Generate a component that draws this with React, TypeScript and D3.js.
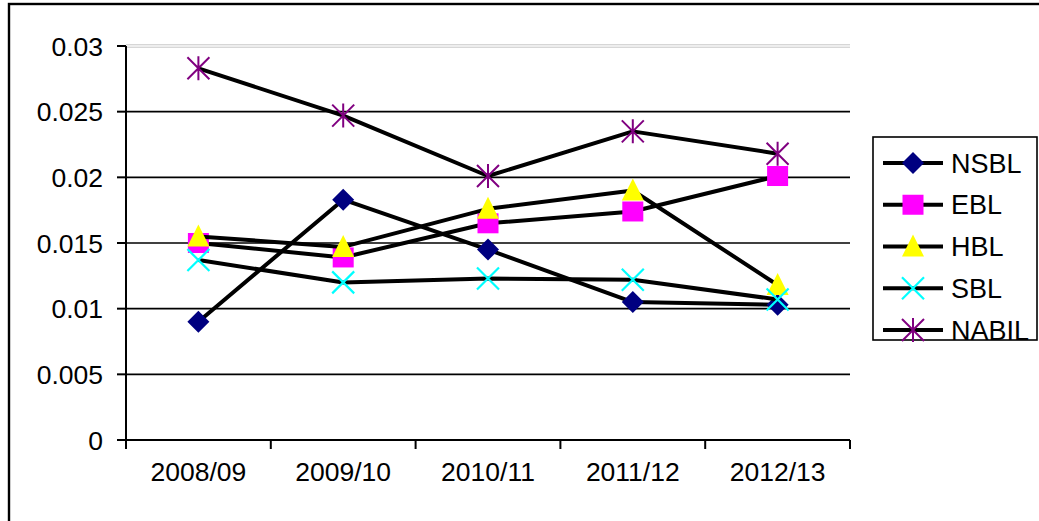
import { useRef, useEffect } from 'react';
import * as d3 from 'd3';

const years = ['2008/09', '2009/10', '2010/11', '2011/12', '2012/13'];
const yTicks = [0, 0.005, 0.01, 0.015, 0.02, 0.025, 0.03];
const yTickLabels = ['0', '0.005', '0.01', '0.015', '0.02', '0.025', '0.03'];

const nsbl = [0.009, 0.0183, 0.0145, 0.0105, 0.0103];
const ebl = [0.015, 0.0139, 0.0165, 0.0174, 0.0201];
const hbl = [0.0155, 0.0147, 0.0176, 0.019, 0.0118];
const sbl = [0.0137, 0.012, 0.0123, 0.0122, 0.0107];
const nabil = [0.0283, 0.0247, 0.0201, 0.0235, 0.0218];

const seriesNames = ['NSBL', 'EBL', 'HBL', 'SBL', 'NABIL'];
const seriesValues = [nsbl, ebl, hbl, sbl, nabil];
const markerTypes = ['diamond', 'square', 'triangle', 'x', 'star'];
const markerColors = ['#000080', '#ff00ff', '#ffff00', '#00ffff', '#800080'];

type Sel = d3.Selection<SVGGElement, unknown, null, undefined>;

function drawMarker(g: Sel, type: string, color: string, cx: number, cy: number) {
    const s = 11;
    if (type === 'diamond') {
        g.append('path')
            .attr('d', `M${cx},${cy - s}L${cx + s},${cy}L${cx},${cy + s}L${cx - s},${cy}Z`)
            .attr('fill', color);
    } else if (type === 'square') {
        g.append('rect')
            .attr('x', cx - 10.5)
            .attr('y', cy - 10)
            .attr('width', 21)
            .attr('height', 20)
            .attr('fill', color);
    } else if (type === 'triangle') {
        g.append('path')
            .attr('d', `M${cx},${cy - 12}L${cx + 11},${cy + 10}L${cx - 11},${cy + 10}Z`)
            .attr('fill', color);
    } else if (type === 'x') {
        g.append('path')
            .attr('d', `M${cx - s},${cy - s}L${cx + s},${cy + s}M${cx + s},${cy - s}L${cx - s},${cy + s}`)
            .attr('stroke', color)
            .attr('stroke-width', 2.2)
            .attr('fill', 'none');
    } else {
        g.append('path')
            .attr('d', `M${cx - s},${cy - s}L${cx + s},${cy + s}M${cx + s},${cy - s}L${cx - s},${cy + s}M${cx},${cy - s - 1}L${cx},${cy + s + 1}`)
            .attr('stroke', color)
            .attr('stroke-width', 2)
            .attr('fill', 'none');
    }
}

export default function App() {
    const svgRef = useRef<SVGSVGElement>(null);
    const width = 1039;
    const height = 521;

    useEffect(() => {
        if (!svgRef.current) return;
        const svg = d3.select(svgRef.current);
        svg.selectAll('*').remove();

        const plot = { left: 126, right: 850, top: 46, bottom: 440 };
        const font = '"Liberation Sans", Arial, sans-serif';
        const fontSize = '26.5px';

        const x = d3.scaleBand<string>()
            .domain(years)
            .range([plot.left, plot.right]);
        const y = d3.scaleLinear()
            .domain([0, 0.03])
            .range([plot.bottom, plot.top]);

        const root = svg.append('g') as unknown as Sel;

        // outer frame (right / bottom edges are outside the picture)
        root.append('rect')
            .attr('x', 9)
            .attr('y', 4)
            .attr('width', 1100)
            .attr('height', 600)
            .attr('fill', 'white')
            .attr('stroke', '#000')
            .attr('stroke-width', 2.4);

        // gridlines
        yTicks.forEach(t => {
            if (t === 0) return;
            if (t === 0.03) {
                [-1.2, 1.2].forEach(off => {
                    root.append('line')
                        .attr('x1', plot.left).attr('x2', plot.right)
                        .attr('y1', y(t) + off).attr('y2', y(t) + off)
                        .attr('stroke', '#c0c0c0').attr('stroke-width', 0.9);
                });
                return;
            }
            root.append('line')
                .attr('x1', plot.left).attr('x2', plot.right)
                .attr('y1', y(t)).attr('y2', y(t))
                .attr('stroke', '#000').attr('stroke-width', 1.7);
        });

        // y axis
        root.append('line')
            .attr('x1', plot.left).attr('x2', plot.left)
            .attr('y1', plot.top).attr('y2', plot.bottom)
            .attr('stroke', '#000').attr('stroke-width', 2);
        yTicks.forEach((t, i) => {
            root.append('line')
                .attr('x1', plot.left - 9).attr('x2', plot.left)
                .attr('y1', y(t)).attr('y2', y(t))
                .attr('stroke', '#000').attr('stroke-width', 2);
            root.append('text')
                .attr('x', 103)
                .attr('y', y(t))
                .attr('dy', '0.36em')
                .attr('text-anchor', 'end')
                .attr('font-family', font)
                .attr('font-size', fontSize)
                .attr('fill', '#000')
                .text(yTickLabels[i]);
        });

        // x axis
        root.append('line')
            .attr('x1', plot.left).attr('x2', plot.right)
            .attr('y1', plot.bottom).attr('y2', plot.bottom)
            .attr('stroke', '#000').attr('stroke-width', 2);
        const edges = years.map(yr => x(yr) as number).concat([plot.right]);
        edges.forEach(ex => {
            root.append('line')
                .attr('x1', ex).attr('x2', ex)
                .attr('y1', plot.bottom).attr('y2', plot.bottom + 9)
                .attr('stroke', '#000').attr('stroke-width', 2);
        });
        years.forEach(yr => {
            root.append('text')
                .attr('x', (x(yr) as number) + x.bandwidth() / 2)
                .attr('y', 481)
                .attr('text-anchor', 'middle')
                .attr('font-family', font)
                .attr('font-size', fontSize)
                .attr('fill', '#000')
                .text(yr);
        });

        // series
        const line = d3.line<number>()
            .x((_, i) => (x(years[i]) as number) + x.bandwidth() / 2)
            .y(d => y(d));

        seriesValues.forEach((vals, si) => {
            const g = root.append('g') as unknown as Sel;
            g.append('path')
                .attr('d', line(vals))
                .attr('fill', 'none')
                .attr('stroke', '#000')
                .attr('stroke-width', 4)
                .attr('stroke-linejoin', 'round');
            vals.forEach((v, i) => {
                drawMarker(g, markerTypes[si], markerColors[si],
                    (x(years[i]) as number) + x.bandwidth() / 2, y(v));
            });
        });

        // legend
        const lg = root.append('g') as unknown as Sel;
        lg.append('rect')
            .attr('x', 873)
            .attr('y', 137)
            .attr('width', 164)
            .attr('height', 203)
            .attr('fill', 'white')
            .attr('stroke', '#000')
            .attr('stroke-width', 1.6);
        const legendY = d3.scalePoint<string>()
            .domain(seriesNames)
            .range([163, 330]);
        seriesNames.forEach((name, si) => {
            const ly = legendY(name) as number;
            lg.append('line')
                .attr('x1', 883).attr('x2', 943)
                .attr('y1', ly).attr('y2', ly)
                .attr('stroke', '#000').attr('stroke-width', 4);
            drawMarker(lg, markerTypes[si], markerColors[si], 913, ly);
            lg.append('text')
                .attr('x', 951)
                .attr('y', ly)
                .attr('dy', '0.36em')
                .attr('font-family', font)
                .attr('font-size', '27px')
                .attr('fill', '#000')
                .text(name);
        });
    }, []);

    return (
        <div style={{ position: 'absolute', left: 0, top: 0, width, height, overflow: 'hidden' }}>
            <svg ref={svgRef} width={width} height={height} style={{ display: 'block', background: '#fff' }} />
        </div>
    );
}
